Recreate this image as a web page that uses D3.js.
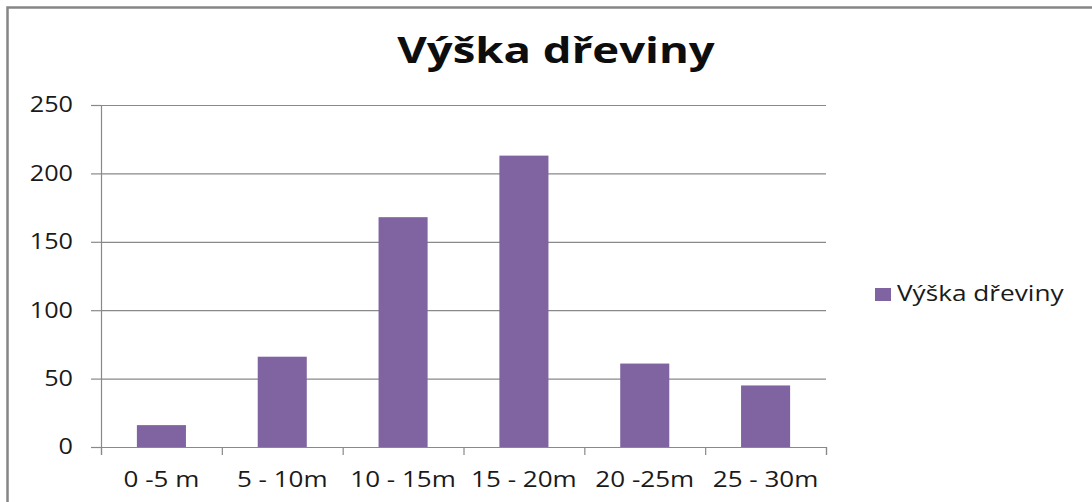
<!DOCTYPE html>
<html><head><meta charset="utf-8">
<script src="https://cdn.jsdelivr.net/npm/d3@7"></script>
<style>body{margin:0;background:#fff}svg{display:block}</style>
</head><body>
<svg id="c" width="1092" height="502"></svg>
<script>
const categories = ["0 -5 m", "5 - 10m", "10 - 15m", "15 - 20m", "20 -25m", "25 - 30m"];
const values = [16, 66, 168, 213, 61, 45];
const yTicks = [0, 50, 100, 150, 200, 250];
const seriesName = "Výška dřeviny";
const chartTitle = "Výška dřeviny";

(function(){
const svg = d3.select("#c");
const font = "'Open Sans', 'Noto Sans', sans-serif";
function stretch(sel, k){
  sel.each(function(){
    const w = this.getComputedTextLength();
    d3.select(this).attr("textLength", w*k).attr("lengthAdjust","spacingAndGlyphs");
  });
}
// frame
svg.append("path").attr("d","M7.5,502 V7.5 H1092").attr("fill","none").attr("stroke","#868686").attr("stroke-width",2.5);

const pl = 101, pr = 826, pt = 105, pb = 447;
const x = d3.scaleBand().domain(categories).range([pl, pr]).paddingInner(0.594).paddingOuter(0.297);
const y = d3.scaleLinear().domain([0, 250]).range([pb, pt]);

// gridlines
svg.append("g").attr("transform",`translate(${pl},0)`)
  .call(d3.axisLeft(y).tickValues(yTicks).tickSize(-(pr-pl)).tickFormat(""))
  .call(g=>g.select(".domain").remove())
  .call(g=>g.selectAll("line").attr("stroke","#898989").attr("stroke-width",1.2));

// y axis
svg.append("g").attr("transform",`translate(${pl},0)`)
  .call(d3.axisLeft(y).tickValues(yTicks).tickSize(10).tickPadding(18))
  .call(g=>g.select(".domain").attr("stroke","#898989").attr("stroke-width",1.2))
  .call(g=>g.selectAll("line").attr("stroke","#898989").attr("stroke-width",1.2))
  .call(g=>g.selectAll("text").attr("font-family",font).attr("font-size",21).attr("fill","#1a1a1a").attr("dy","0.33em").call(stretch,1.2));

// bars
svg.append("g").selectAll("rect").data(values).join("rect")
  .attr("x",(d,i)=>x(categories[i])).attr("width",x.bandwidth())
  .attr("y",d=>y(d)).attr("height",d=>y(0)-y(d)).attr("fill","#8064A2");

// x axis
const xb = d3.scaleLinear().domain([0, categories.length]).range([pl, pr]);
svg.append("g").attr("transform",`translate(0,${pb})`)
  .call(d3.axisBottom(xb).tickValues(d3.range(categories.length+1)).tickSize(8).tickFormat(""))
  .call(g=>g.select(".domain").attr("stroke","#898989").attr("stroke-width",1.2))
  .call(g=>g.selectAll("line").attr("stroke","#898989").attr("stroke-width",1.2));
svg.append("g").selectAll("text").data(categories).join("text")
  .attr("x",d=>x(d)+x.bandwidth()/2).attr("y",487).attr("text-anchor","middle")
  .attr("font-family",font).attr("font-size",21).attr("fill","#1a1a1a").text(d=>d)
  .call(stretch,1.24);

// title
svg.append("text").attr("x",556).attr("y",63).attr("text-anchor","middle")
  .attr("font-family",font).attr("font-weight","bold").attr("font-size",35).attr("fill","#0d0d0d").text(chartTitle)
  .call(stretch,1.3);

// legend
svg.append("rect").attr("x",875).attr("y",288).attr("width",16).attr("height",13).attr("fill","#8064A2");
svg.append("text").attr("x",897).attr("y",301).attr("font-family",font).attr("font-size",22).attr("fill","#1a1a1a").text(seriesName)
  .call(stretch,1.19);
})();
</script>
</body></html>
